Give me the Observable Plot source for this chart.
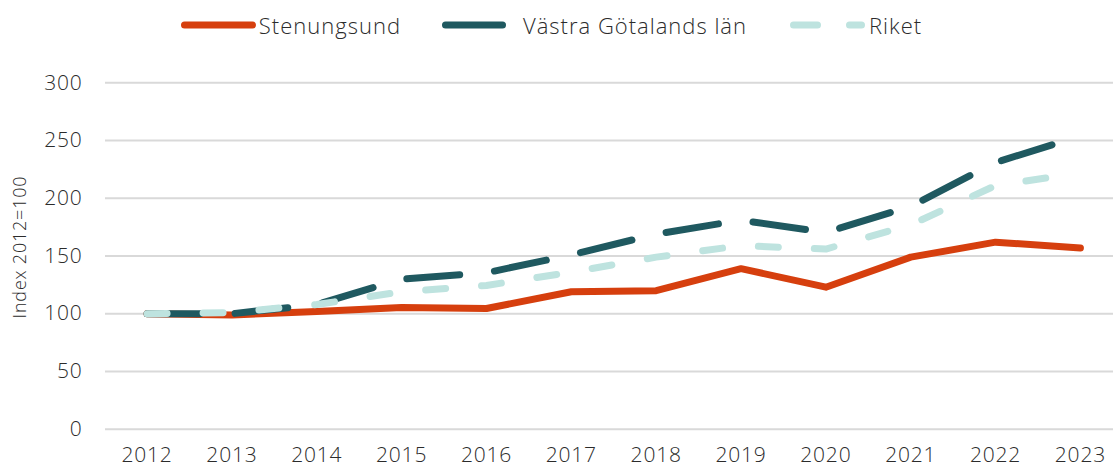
<!DOCTYPE html>
<html>
<head>
<meta charset="utf-8">
<script src="https://cdn.jsdelivr.net/npm/d3@7"></script>
<script src="https://cdn.jsdelivr.net/npm/@observablehq/plot@0.6"></script>
<style>
  html, body { margin: 0; padding: 0; background: #fff; }
  body { width: 1113px; height: 468px; overflow: hidden; font-family: "Open Sans", sans-serif; color: #2b2b2b; }
  #legend { height: 50px; display: flex; align-items: center; justify-content: center; font-size: 22px; font-weight: 300; letter-spacing: 1px; padding-right: 10px; box-sizing: border-box; }
  #legend .item { display: flex; align-items: center; }
  #legend svg { display: block; }
</style>
</head>
<body>
<div id="legend"></div>
<div id="chart"></div>
<script>
const years = [2012, 2013, 2014, 2015, 2016, 2017, 2018, 2019, 2020, 2021, 2022, 2023];
const stenungsund = [100, 99, 102, 105.5, 104.5, 119, 120, 139, 123, 149, 162, 157];
const vastraGotaland = [100, 100, 108, 130, 135.5, 151, 169, 181, 170.5, 193, 231, 254];
const riket = [100, 101, 108, 119, 124.5, 136, 149, 159, 156, 177, 211, 222];
const yTicks = [0, 50, 100, 150, 200, 250, 300];
const seriesNames = ["Stenungsund", "Västra Götalands län", "Riket"];
const yLabel = "Index 2012=100";

const colors = ["#D63F0E", "#1F5960", "#BEE3DF"];
const dashes = [null, "53 35", "20 36"];

// Legend
const legend = document.getElementById("legend");
const swatches = [
  {w: 75, dash: null, gapAfterSwatch: 3, gapAfterText: 41},
  {w: 64, dash: null, gapAfterSwatch: 17, gapAfterText: 43},
  {w: 75, dash: "24 32", gapAfterSwatch: 4, gapAfterText: 0}
];
seriesNames.forEach((name, i) => {
  const item = document.createElement("div");
  item.className = "item";
  item.style.marginRight = swatches[i].gapAfterText + "px";
  const s = swatches[i];
  const svgNS = "http://www.w3.org/2000/svg";
  const sw = document.createElementNS(svgNS, "svg");
  sw.setAttribute("width", s.w);
  sw.setAttribute("height", 12);
  const ln = document.createElementNS(svgNS, "line");
  ln.setAttribute("x1", 3.5);
  ln.setAttribute("x2", s.w - 3.5);
  ln.setAttribute("y1", 6);
  ln.setAttribute("y2", 6);
  ln.setAttribute("stroke", colors[i]);
  ln.setAttribute("stroke-width", 7);
  ln.setAttribute("stroke-linecap", "round");
  if (s.dash) ln.setAttribute("stroke-dasharray", s.dash);
  sw.appendChild(ln);
  sw.style.marginRight = s.gapAfterSwatch + "px";
  item.appendChild(sw);
  const t = document.createElement("span");
  t.textContent = name;
  item.appendChild(t);
  legend.appendChild(item);
});

const seriesValues = [stenungsund, vastraGotaland, riket];

const chart = Plot.plot({
  width: 1113,
  height: 418,
  marginLeft: 105,
  marginRight: 0,
  marginTop: 32.3,
  marginBottom: 39.3,
  style: {fontFamily: "Open Sans, sans-serif", fontSize: "21px", fontWeight: 300, color: "#2b2b2b", background: "#fff", overflow: "visible"},
  x: {domain: [2011.51, 2023.39]},
  y: {domain: [0, 300]},
  marks: [
    Plot.ruleY(yTicks, {stroke: "#d9d9d9", strokeWidth: 2, strokeOpacity: 1}),
    Plot.axisY(yTicks, {tickSize: 0, tickPadding: 23, label: null, fontSize: 21, className: "ytick"}),
    Plot.axisX(years, {tickSize: 0, tickPadding: 18, tickFormat: d => String(d), label: null, fontSize: 21, className: "xtick"}),
    Plot.text([yLabel], {frameAnchor: "left", textAnchor: "middle", rotate: -90, dx: -85, dy: -9, fontSize: 18, fill: "#2b2b2b", className: "ylabel"}),
    ...seriesValues.map((vals, i) =>
      Plot.line(years, {
        x: d => d,
        y: (d, j) => vals[j],
        stroke: colors[i],
        strokeWidth: 7,
        strokeDasharray: dashes[i] ?? undefined,
        strokeLinecap: "round",
        strokeLinejoin: "round"
      })
    )
  ]
});
d3.select(chart).selectAll(".ytick text, .xtick text").style("letter-spacing", "0.8px");
d3.select(chart).selectAll(".ylabel text").style("letter-spacing", "0.8px");
document.getElementById("chart").appendChild(chart);
</script>
</body>
</html>
